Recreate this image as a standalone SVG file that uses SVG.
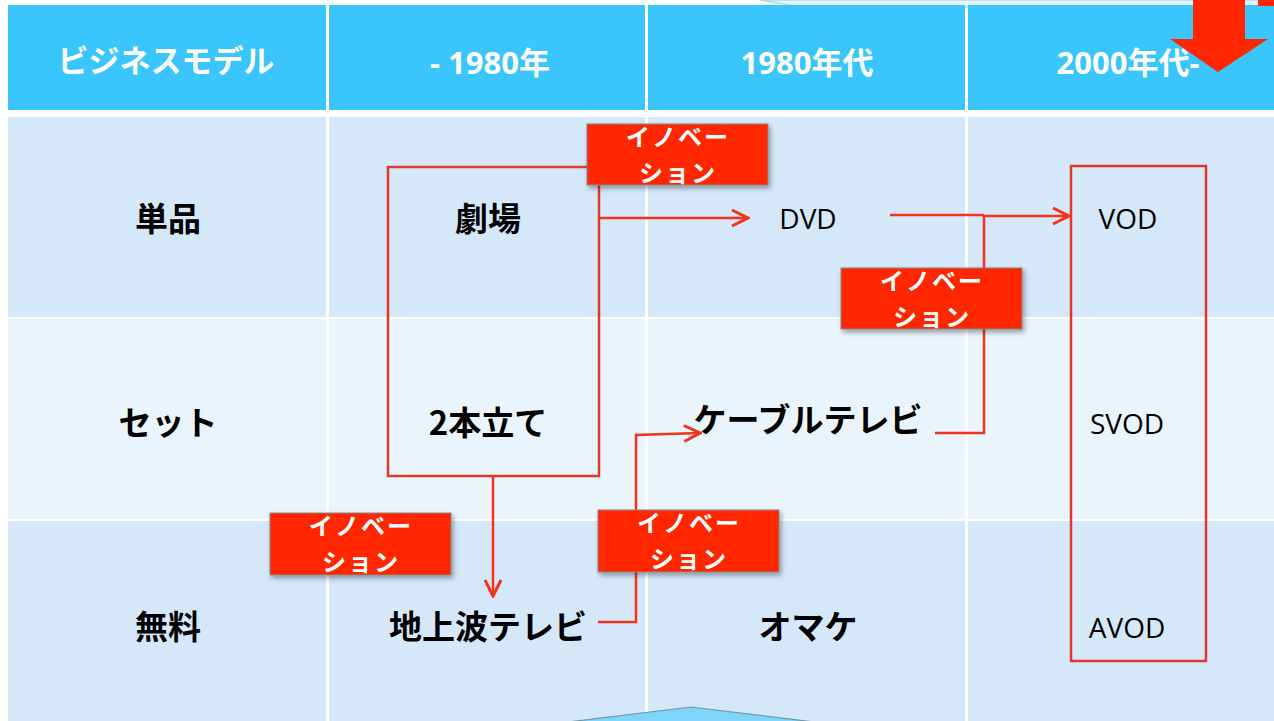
<svg xmlns="http://www.w3.org/2000/svg" width="1274" height="721" viewBox="0 0 1274 721">
<defs>
<style>
.hdr{fill:#3ac5fc}
.r1{fill:#d4e8fa}
.r2{fill:#e9f4fd}
.ht{font-family:"Open Sans","Noto Sans CJK JP",sans-serif;font-weight:bold;font-size:31px;fill:#fff;text-anchor:middle}
.jt{font-family:"Noto Sans CJK JP",sans-serif;font-weight:bold;font-size:33px;fill:#000;text-anchor:middle}
.lt{font-family:"Open Sans","Liberation Sans",sans-serif;font-size:28px;fill:#000;text-anchor:middle}
.box{fill:#ff2600;stroke:#888;stroke-width:1;filter:url(#sh)}
.bt{font-family:"Noto Sans CJK JP",sans-serif;font-weight:bold;font-size:24px;fill:#fff;text-anchor:middle;letter-spacing:2px}
.ln{fill:none;stroke:#f5321a;stroke-width:2.5}
.frm{fill:none;stroke:#e03a26;stroke-width:2.5}
</style>
<filter id="sh" x="-10%" y="-10%" width="130%" height="140%">
<feDropShadow dx="2" dy="3" stdDeviation="2.5" flood-color="#000" flood-opacity="0.35"/>
</filter>
<marker id="ah" viewBox="0 0 20 20" refX="18" refY="10" markerWidth="20" markerHeight="20" markerUnits="userSpaceOnUse" orient="auto">
<path d="M2,2 L18,10 L2,18" fill="none" stroke="#f5321a" stroke-width="3"/>
</marker>
</defs>
<rect width="1274" height="721" fill="#fff"/>
<g id="top-band">
<polygon points="760,0 1274,0 1274,7 800,7" fill="#e6f4fc" stroke="#a8dcf5" stroke-width="1.5"/>
</g>
<g id="table">
<rect class="hdr" x="8" y="5" width="318" height="105"/>
<rect class="hdr" x="329" y="5" width="316" height="105"/>
<rect class="hdr" x="648" y="5" width="317" height="105"/>
<rect class="hdr" x="968" y="5" width="306" height="105"/>
<rect class="r1" x="8" y="117" width="1266" height="200"/>
<rect class="r2" x="8" y="319" width="1266" height="200"/>
<rect class="r1" x="8" y="521" width="1266" height="200"/>
<g fill="#fff">
<rect x="326" y="117" width="3" height="604"/>
<rect x="645" y="117" width="3" height="604"/>
<rect x="965" y="117" width="3" height="604"/>
</g>
</g>
<g id="header-texts">
<text class="ht" x="166" y="72">ビジネスモデル</text>
<text class="ht" x="490" y="74">- 1980年</text>
<text class="ht" x="807" y="74">1980年代</text>
<text class="ht" x="1128" y="74">2000年代-</text>
</g>
<g id="row-labels">
<text class="jt" x="168" y="231">単品</text>
<text class="jt" x="168" y="435">セット</text>
<text class="jt" x="168" y="639">無料</text>
</g>
<g id="n-theater"><text class="jt" x="488" y="231">劇場</text></g>
<g id="n-double"><text class="jt" x="488" y="435">2本立て</text></g>
<g id="n-terrestrial"><text class="jt" x="488" y="639">地上波テレビ</text></g>
<g id="n-dvd"><text class="lt" x="808" y="229">DVD</text></g>
<g id="n-cable"><text class="jt" x="808" y="432">ケーブルテレビ</text></g>
<g id="n-omake"><text class="jt" x="808" y="639">オマケ</text></g>
<g id="n-vod"><text class="lt" x="1128" y="229">VOD</text></g>
<g id="n-svod"><text class="lt" x="1127" y="434">SVOD</text></g>
<g id="n-avod"><text class="lt" x="1127" y="638">AVOD</text></g>
<g id="frame-1980"><rect class="frm" x="388" y="167" width="211" height="309"/></g>
<g id="frame-2000"><rect class="frm" x="1071" y="166" width="135" height="495"/></g>
<g id="connectors">
<path class="ln" d="M599,218 L748,218" marker-end="url(#ah)"/>
<path class="ln" d="M890,215 L984,215"/>
<path class="ln" d="M935,433 L984,433 L984,216 L1069,216" marker-end="url(#ah)"/>
<path class="ln" d="M493,476 L493,596" marker-end="url(#ah)"/>
<path class="ln" d="M598,622 L636,622 L636,435 L700,433" marker-end="url(#ah)"/>
</g>
<g id="innov-1">
<rect class="box" x="587" y="124" width="181" height="61"/>
<text class="bt" x="678" y="146">イノベー</text>
<text class="bt" x="678" y="182">ション</text>
</g>
<g id="innov-2">
<rect class="box" x="841" y="268" width="181" height="61"/>
<text class="bt" x="932" y="290">イノベー</text>
<text class="bt" x="932" y="326">ション</text>
</g>
<g id="innov-3">
<rect class="box" x="270" y="513" width="181" height="62"/>
<text class="bt" x="361" y="535">イノベー</text>
<text class="bt" x="361" y="571">ション</text>
</g>
<g id="innov-4">
<rect class="box" x="598" y="510" width="181" height="62"/>
<text class="bt" x="689" y="532">イノベー</text>
<text class="bt" x="689" y="568">ション</text>
</g>
<g id="down-arrow">
<rect x="1258" y="0" width="16" height="6" fill="#ff2600"/>
<polygon points="1193,0 1245,0 1245,39 1268,39 1218,72 1170,39 1193,39" fill="#ff2600"/>
</g>
<g id="bottom-chevron">
<polygon points="568,722 691,707 814,722" fill="#7fd4fb" stroke="#6f98ab" stroke-width="1.2"/>
</g>
</svg>
